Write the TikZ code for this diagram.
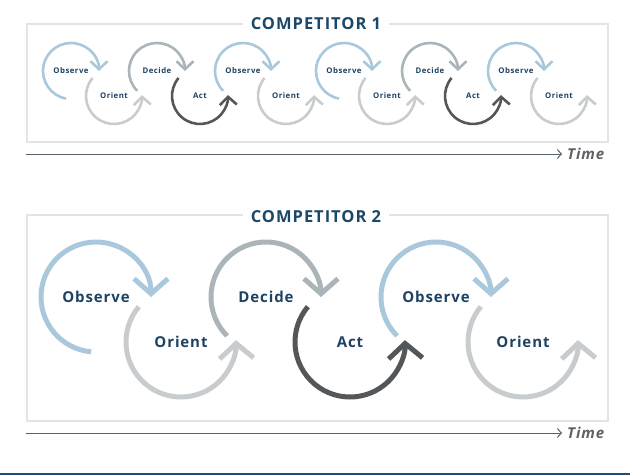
\documentclass[tikz,border=0pt]{standalone}
\usepackage{fontspec}
\setmainfont{Open Sans}[LetterSpace=6]
\usetikzlibrary{arrows.meta}

\definecolor{titleblue}{HTML}{1B4868}
\definecolor{labelblue}{HTML}{1E4262}
\definecolor{observecol}{HTML}{A9C8DC}
\definecolor{orientcol}{HTML}{C8CCCE}
\definecolor{decidecol}{HTML}{AAB4B9}
\definecolor{actcol}{HTML}{545759}
\definecolor{panelgray}{HTML}{E2E4E6}
\definecolor{axisgray}{HTML}{56626C}
\definecolor{timegray}{HTML}{5E6166}
\definecolor{rulecol}{HTML}{1F4E79}

\begin{document}
\begin{tikzpicture}[x=1pt, y=1pt,
      panel/.style={draw=panelgray, line width=1.5pt},
      title/.style={fill=white, text=titleblue, inner xsep=8pt, font=\bfseries\fontsize{16.5}{19}\selectfont},
      biglabel/.style={text=labelblue, font=\bfseries\fontsize{15}{17}\selectfont},
      smalllabel/.style={text=labelblue, font=\bfseries\fontsize{7.8}{9}\selectfont},
      bigloop/.style={line width=5pt, -{Straight Barb[length=15pt,width=34pt]}},
      smallloop/.style={line width=2.6pt, -{Straight Barb[length=8pt,width=17pt]}},
      timeaxis/.style={draw=axisgray, line width=1pt, -{Straight Barb[length=4pt,width=9pt]}},
      timelabel/.style={text=timegray, anchor=west, inner sep=0pt, xshift=5pt, font=\bfseries\itshape\fontsize{15}{17}\selectfont}]
  \useasboundingbox (0,0) rectangle (636,475);

  % competitor 1
  \draw[panel] (27,333) rectangle (608,451);
  \node (title1) [title] at (316,451) {COMPETITOR 1};
  \foreach \dx/\k in {0/A, 273/B} {
    \node (obs1\k) [smalllabel] at (71+\dx,404) {Observe};
    \node (ori1\k) [smalllabel] at (114+\dx,379) {Orient};
    \node (dec1\k) [smalllabel] at (157+\dx,404) {Decide};
    \node (act1\k) [smalllabel] at (200+\dx,379) {Act};
    \node (obs2\k) [smalllabel] at (243+\dx,404) {Observe};
    \node (ori2\k) [smalllabel] at (286+\dx,379) {Orient};
  }
  \foreach \k in {A, B}
    \foreach \n/\a/\b/\c in {obs1/260/0/observecol, ori1/140/362/orientcol, dec1/225/0/decidecol,
                             act1/140/362/actcol, obs2/225/0/observecol, ori2/140/362/orientcol}
      \draw[smallloop, draw=\c] (\n\k.center) ++(\a:28) arc[start angle=\a, end angle=\b, radius=28];
  \coordinate (t1start) at (26,321);
  \coordinate (t1end) at (562,321);
  \draw[timeaxis] (t1start) -- (t1end);
  \node (time1) [timelabel] at (t1end) {Time};

  % competitor 2
  \draw[panel] (27,54) rectangle (608,260);
  \node (title2) [title] at (316,258) {COMPETITOR 2};
  \node (obsA) [biglabel] at (96,178) {Observe};
  \node (oriA) [biglabel] at (181,133) {Orient};
  \node (decA) [biglabel] at (266,178) {Decide};
  \node (actA) [biglabel] at (350,133) {Act};
  \node (obsB) [biglabel] at (436,178) {Observe};
  \node (oriB) [biglabel] at (523,133) {Orient};
  \foreach \n/\a/\b/\c in {obsA/265/0/observecol, oriA/140/362/orientcol, decA/225/0/decidecol,
                           actA/140/362/actcol, obsB/225/0/observecol, oriB/140/362/orientcol}
    \draw[bigloop, draw=\c] (\n.center) ++(\a:55) arc[start angle=\a, end angle=\b, radius=55];
  \coordinate (t2start) at (26,42);
  \coordinate (t2end) at (562,42);
  \draw[timeaxis] (t2start) -- (t2end);
  \node (time2) [timelabel] at (t2end) {Time};

  % bottom rule
  \coordinate (rulestart) at (0,1);
  \coordinate (ruleend) at (630,1);
  \draw[rulecol, line width=2pt] (rulestart) -- (ruleend);
\end{tikzpicture}
\end{document}
